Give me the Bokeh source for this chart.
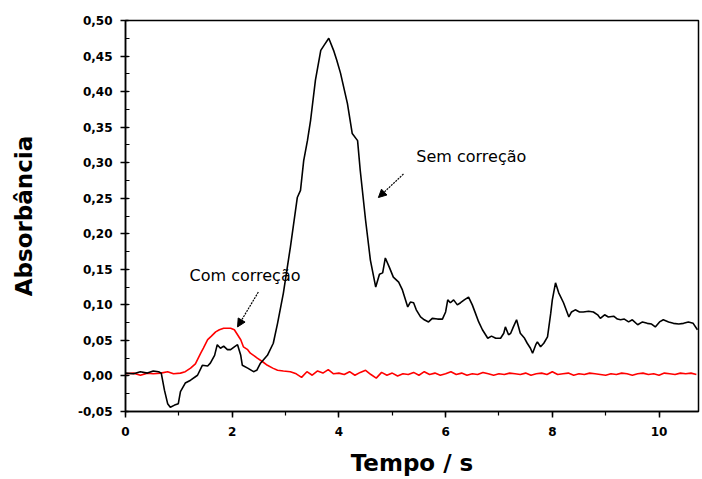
from bokeh.plotting import figure
from bokeh.models import (Range1d, SingleIntervalTicker, CustomJSTickFormatter,
                          Arrow, NormalHead, Label)
from bokeh.embed import file_html
from bokeh.resources import INLINE

# ---- data: "Sem correção" (black) ----
t_sem = [0.00, 0.15, 0.28, 0.41, 0.52, 0.62, 0.67, 0.73, 0.79, 0.84, 0.92, 0.99,
         1.03, 1.12, 1.22, 1.35, 1.44, 1.54, 1.59, 1.67, 1.72, 1.78, 1.84, 1.91,
         1.97, 2.04, 2.10, 2.16, 2.19, 2.29, 2.40, 2.46, 2.53, 2.66, 2.77, 2.85,
         2.96, 3.09, 3.22, 3.28, 3.34, 3.41, 3.47, 3.56, 3.66, 3.73, 3.81, 3.90,
         3.96, 4.03, 4.16, 4.25, 4.35, 4.40, 4.50, 4.59, 4.69, 4.76, 4.82, 4.87,
         4.95, 5.02, 5.12, 5.19, 5.29, 5.34, 5.40, 5.45, 5.53, 5.60, 5.68, 5.75,
         5.85, 5.94, 6.00, 6.04, 6.09, 6.15, 6.22, 6.28, 6.35, 6.43, 6.50, 6.56,
         6.62, 6.69, 6.79, 6.86, 6.94, 7.03, 7.09, 7.12, 7.18, 7.22, 7.27, 7.33,
         7.40, 7.48, 7.53, 7.59, 7.63, 7.69, 7.72, 7.78, 7.84, 7.91, 7.97, 8.00,
         8.06, 8.12, 8.21, 8.31, 8.36, 8.43, 8.51, 8.58, 8.68, 8.77, 8.85, 8.90,
         8.98, 9.05, 9.15, 9.22, 9.28, 9.35, 9.43, 9.50, 9.60, 9.69, 9.78, 9.86,
         9.93, 10.01, 10.08, 10.18, 10.27, 10.37, 10.46, 10.55, 10.64, 10.72]
a_sem = [0.004, 0.003, 0.006, 0.004, 0.007, 0.006, 0.004, -0.020, -0.039, -0.044, -0.041, -0.039,
         -0.022, -0.010, -0.006, 0.001, 0.015, 0.014, 0.018, 0.029, 0.044, 0.039, 0.042, 0.037,
         0.037, 0.041, 0.044, 0.029, 0.015, 0.011, 0.006, 0.008, 0.018, 0.029, 0.046, 0.074,
         0.117, 0.181, 0.251, 0.261, 0.303, 0.331, 0.360, 0.416, 0.458, 0.466, 0.475, 0.458,
         0.444, 0.426, 0.383, 0.341, 0.331, 0.289, 0.219, 0.163, 0.125, 0.143, 0.145, 0.166,
         0.152, 0.139, 0.132, 0.121, 0.097, 0.104, 0.103, 0.093, 0.083, 0.079, 0.076, 0.081,
         0.080, 0.080, 0.090, 0.107, 0.103, 0.107, 0.100, 0.103, 0.107, 0.111, 0.100, 0.088,
         0.076, 0.065, 0.053, 0.056, 0.053, 0.053, 0.060, 0.069, 0.058, 0.060, 0.069, 0.079,
         0.060, 0.053, 0.046, 0.039, 0.032, 0.044, 0.048, 0.041, 0.046, 0.055, 0.088, 0.107,
         0.131, 0.117, 0.103, 0.083, 0.090, 0.093, 0.090, 0.090, 0.091, 0.090, 0.086, 0.081,
         0.086, 0.083, 0.084, 0.080, 0.079, 0.080, 0.076, 0.079, 0.072, 0.076, 0.074, 0.073,
         0.069, 0.076, 0.079, 0.076, 0.074, 0.073, 0.074, 0.076, 0.074, 0.065]

# ---- data: "Com correção" (red) ----
t_com = [0.00, 0.15, 0.28, 0.41, 0.52, 0.66, 0.79, 0.90, 1.03, 1.12, 1.22, 1.31,
         1.41, 1.46, 1.54, 1.61, 1.69, 1.76, 1.84, 1.91, 1.97, 2.04, 2.10, 2.16,
         2.21, 2.29, 2.34, 2.42, 2.47, 2.57, 2.66, 2.76, 2.85, 2.96, 3.09,
         3.2, 3.3, 3.4, 3.5, 3.6, 3.7, 3.8, 3.9, 4.0, 4.1, 4.2, 4.3, 4.4, 4.5,
         4.6, 4.7, 4.8, 4.9, 5.0, 5.1, 5.2, 5.3, 5.4, 5.5, 5.6, 5.7, 5.8, 5.9,
         6.0, 6.1, 6.2, 6.3, 6.4, 6.5, 6.6, 6.7, 6.8, 6.9, 7.0, 7.1, 7.2, 7.3,
         7.4, 7.5, 7.6, 7.7, 7.8, 7.9, 8.0, 8.1, 8.2, 8.3, 8.4, 8.5, 8.6, 8.7,
         8.8, 8.9, 9.0, 9.1, 9.2, 9.3, 9.4, 9.5, 9.6, 9.7, 9.8, 9.9, 10.0, 10.1,
         10.2, 10.3, 10.4, 10.5, 10.6, 10.7]
a_com = [0.003, 0.004, 0.001, 0.004, 0.003, 0.004, 0.006, 0.003, 0.004, 0.006, 0.011, 0.017,
         0.032, 0.039, 0.051, 0.056, 0.062, 0.065, 0.067, 0.067, 0.067, 0.065, 0.058, 0.051,
         0.041, 0.037, 0.032, 0.028, 0.025, 0.020, 0.015, 0.011, 0.008, 0.007, 0.006,
         0.003, -0.002, 0.006, 0.001, 0.007, 0.004, 0.009, 0.003, 0.004, 0.002, 0.006, 0.001, 0.005, 0.008,
         0.002, -0.003, 0.005, 0.001, 0.004, 0.000, 0.003, 0.002, 0.005, 0.001, 0.006, 0.002, 0.004, 0.001,
         0.003, 0.006, 0.002, 0.004, 0.001, 0.003, 0.002, 0.005, 0.003, 0.001, 0.003, 0.002, 0.004, 0.003,
         0.002, 0.004, 0.001, 0.003, 0.004, 0.002, 0.006, 0.002, 0.003, 0.004, 0.001, 0.003, 0.002, 0.004,
         0.003, 0.002, 0.001, 0.003, 0.002, 0.004, 0.003, 0.001, 0.003, 0.004, 0.002, 0.003, 0.001, 0.004,
         0.003, 0.002, 0.004, 0.003, 0.004, 0.002]

x_label = "Tempo / s"
y_label = "Absorbância"
label_sem = "Sem correção"
label_com = "Com correção"

p = figure(width=700, height=478, output_backend="svg", toolbar_location=None,
           x_range=Range1d(0, 10.74), y_range=Range1d(-0.05, 0.50),
           min_border_left=125, min_border_right=2, min_border_top=20,
           min_border_bottom=67)
p.background_fill_color = "white"
p.border_fill_color = "white"
p.outline_line_color = "black"
p.outline_line_width = 1.5
p.xgrid.visible = False
p.ygrid.visible = False

p.line(t_com, a_com, line_color="#ff0000", line_width=1.6)
p.line(t_sem, a_sem, line_color="black", line_width=1.6)

# axes
p.xaxis.ticker = SingleIntervalTicker(interval=2, num_minor_ticks=2)
p.yaxis.ticker = SingleIntervalTicker(interval=0.05, num_minor_ticks=2)
p.xaxis.formatter = CustomJSTickFormatter(code="return Math.round(tick).toString();")
p.yaxis.formatter = CustomJSTickFormatter(
    code="var v = Math.abs(tick) < 1e-9 ? 0 : tick; return v.toFixed(2).replace('.', ',');")

for ax in (p.xaxis[0], p.yaxis[0]):
    ax.axis_line_width = 1.5
    ax.axis_line_color = "black"
    ax.major_tick_line_width = 1.5
    ax.minor_tick_line_width = 1.2
    ax.major_label_text_font = "DejaVu Sans"
    ax.major_label_text_font_style = "bold"
    ax.major_label_text_font_size = "12px"
    ax.major_label_text_color = "black"
    ax.axis_label_text_font = "DejaVu Sans"
    ax.axis_label_text_font_style = "bold"
    ax.axis_label_text_font_size = "23px"
    ax.axis_label_text_color = "black"

p.xaxis.axis_label = x_label
p.xaxis.major_tick_out = 6
p.xaxis.major_tick_in = 0
p.xaxis.minor_tick_out = 4
p.xaxis.minor_tick_in = 0
p.xaxis.major_label_standoff = 9
p.xaxis.axis_label_standoff = 11

p.yaxis.axis_label = y_label
p.yaxis.major_tick_out = 5
p.yaxis.major_tick_in = 3
p.yaxis.minor_tick_out = 0
p.yaxis.minor_tick_in = 4
p.yaxis.major_label_standoff = 8
p.yaxis.axis_label_standoff = 38

# annotations
p.add_layout(Label(x=5.45, y=0.308, text=label_sem, text_font="DejaVu Sans",
                   text_font_size="16px", text_color="black", text_baseline="middle"))
p.add_layout(Label(x=1.2, y=0.142, text=label_com, text_font="DejaVu Sans",
                   text_font_size="16px", text_color="black", text_baseline="middle"))
p.add_layout(Arrow(end=NormalHead(size=8, fill_color="black", line_color="black"),
                   x_start=5.21, y_start=0.284, x_end=4.74, y_end=0.251,
                   line_color="black", line_width=1.2, line_dash="2 1"))
p.add_layout(Arrow(end=NormalHead(size=8, fill_color="black", line_color="black"),
                   x_start=2.49, y_start=0.118, x_end=2.10, y_end=0.069,
                   line_color="black", line_width=1.2, line_dash="2 1"))

open("out.html", "w").write(file_html(p, INLINE))
